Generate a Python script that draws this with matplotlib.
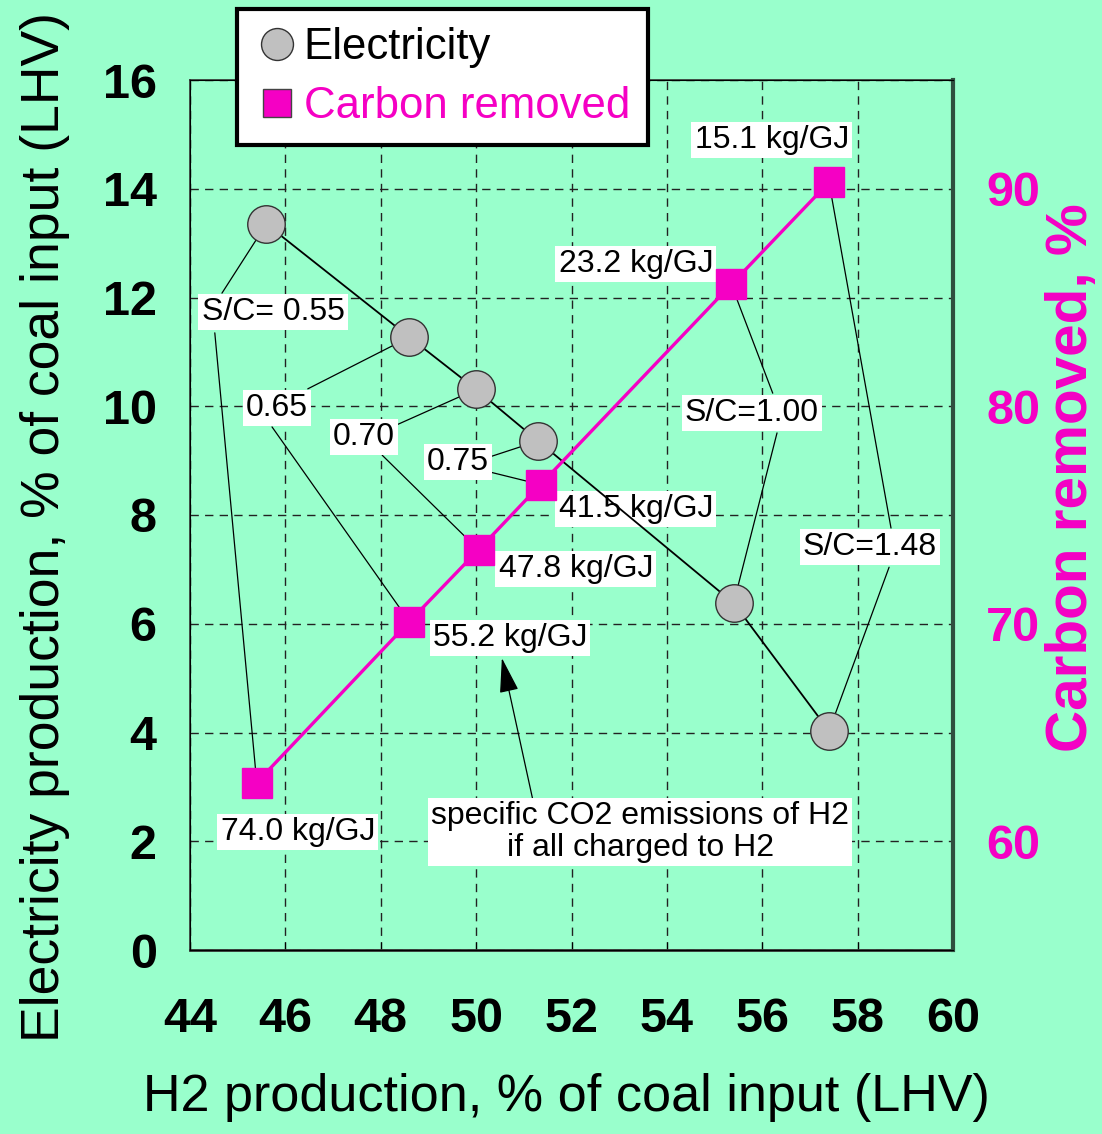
import matplotlib
matplotlib.use('Agg')
import matplotlib.pyplot as plt
from matplotlib.lines import Line2D

plt.rcParams['font.family'] = ['Liberation Sans', 'DejaVu Sans']

# data
h2_elec = [45.6, 48.6, 50.0, 51.3, 55.4, 57.4]
elec = [13.35, 11.27, 10.31, 9.36, 6.38, 4.03]
h2_carb = [45.4, 48.6, 50.05, 51.35, 55.35, 57.4]
carbon = [62.7, 70.1, 73.4, 76.4, 85.6, 90.3]
sc_labels = ['S/C= 0.55', '0.65', '0.70', '0.75', 'S/C=1.00', 'S/C=1.48']
co2_labels = ['74.0 kg/GJ', '55.2 kg/GJ', '47.8 kg/GJ', '41.5 kg/GJ', '23.2 kg/GJ', '15.1 kg/GJ']
note = 'specific CO2 emissions of H2\nif all charged to H2'

# label placement (left-axis data units)
sc_pos = [(45.74, 11.73), (45.82, 9.97), (47.65, 9.43), (49.62, 8.97), (55.78, 9.88), (58.26, 7.41)]
lead_elec = [(44.67, 12.08), (46.47, 10.32), (48.34, 9.66), (50.29, 9.07), (56.31, 9.51), (58.66, 7.04)]
lead_carb = [(44.52, 11.35), (45.72, 9.62), (48.03, 9.10), (50.29, 8.79), (56.22, 10.24), (58.70, 7.76)]
co2_pos = [(46.26, 2.17), (50.71, 5.74), (52.09, 7.01), (53.35, 8.11), (53.35, 12.62), (56.20, 14.90)]

bg = '#99ffcc'
mag = '#f500c4'

fig = plt.figure(figsize=(11.02, 11.34), dpi=100, facecolor=bg)
ax = fig.add_axes([190/1102, 1-950/1134, 763/1102, 870/1134])
ax.set_facecolor(bg)
ax2 = ax.twinx()

ax.set_xlim(44, 60)
ax.set_ylim(0, 16)
ax2.set_ylim(55, 95)
ax.set_xticks(range(44, 61, 2))
ax.set_yticks(range(0, 17, 2))
ax2.set_yticks([60, 70, 80, 90])
ax.grid(True, ls=(0, (6, 4.5)), color='#222222', lw=1)

ax.tick_params(axis='x', direction='in', length=6, pad=34, labelsize=35)
ax.tick_params(axis='y', length=0, pad=24, labelsize=35)
ax2.tick_params(axis='y', length=0, pad=24, labelsize=35, labelcolor=mag)
for lab in ax.get_xticklabels() + ax.get_yticklabels() + ax2.get_yticklabels():
    lab.set_fontweight('bold')

for s in ax.spines.values():
    s.set_color('#333333')
    s.set_linewidth(1.2)
ax.spines['bottom'].set_linewidth(2)
ax2.spines['right'].set_color('#2f4f3f')
ax2.spines['right'].set_linewidth(3)

# series
ax.plot(h2_elec, elec, color='k', lw=1.3, marker='o', ms=27, mfc='#c0c0c0',
        mec='#333333', mew=1, zorder=6)
ax2.plot(h2_carb, carbon, color=mag, lw=2.4, marker='s', ms=22, mfc=mag,
         mec=mag, zorder=3)

# leader lines from S/C labels
for i in range(len(sc_labels)):
    ax.annotate('', xy=(h2_elec[i], elec[i]), xytext=lead_elec[i],
                arrowprops=dict(arrowstyle='-', lw=0.9, color='k', shrinkA=0, shrinkB=0),
                zorder=2)
    ax.annotate('', xy=(h2_carb[i], carbon[i]), xycoords=ax2.transData,
                xytext=lead_carb[i], textcoords=ax.transData,
                arrowprops=dict(arrowstyle='-', lw=0.9, color='k', shrinkA=0, shrinkB=0),
                zorder=2)
    ax.text(sc_pos[i][0], sc_pos[i][1], sc_labels[i], fontsize=23, ha='center', va='center',
            bbox=dict(boxstyle='square,pad=0.1', fc='white', ec='none'), zorder=5)

for i in range(len(co2_labels)):
    ax.text(co2_pos[i][0], co2_pos[i][1], co2_labels[i], fontsize=23, ha='center', va='center',
            bbox=dict(boxstyle='square,pad=0.1', fc='white', ec='none'), zorder=5)

ax.annotate(note, xy=(50.54, 5.37), xytext=(53.44, 2.17), fontsize=23,
            ha='center', va='center', multialignment='center', linespacing=1.05,
            bbox=dict(boxstyle='square,pad=0.1', fc='white', ec='none'),
            arrowprops=dict(arrowstyle='-|>,head_length=1.1,head_width=0.3', fc='k', ec='k',
                            lw=0.9, relpos=(0.244, 1.0), shrinkA=0, shrinkB=0,
                            mutation_scale=20),
            zorder=5)

# axis labels
ax.set_xlabel('H2 production, % of coal input (LHV)', fontsize=37.5, va='center')
ax.xaxis.set_label_coords(0.493, -0.169)
ax.set_ylabel('Electricity production, % of coal input (LHV)', fontsize=38.5, va='center')
ax.yaxis.set_label_coords(-0.19, 0.486)
ax2.set_ylabel('Carbon removed, %', fontsize=42, fontweight='bold', color=mag, va='center')
ax2.yaxis.set_label_coords(1.156, 0.543)

# legend
handles = [Line2D([], [], ls='none', marker='o', ms=23, mfc='#c0c0c0', mec='#333333', mew=1),
           Line2D([], [], ls='none', marker='s', ms=20, mfc=mag, mec='#444444', mew=1)]
leg = fig.legend(handles, ['Electricity', 'Carbon removed'], loc='upper left',
                 bbox_to_anchor=(237/1102, 1-9/1134), fontsize=31.5, frameon=True,
                 fancybox=False, framealpha=1, edgecolor='k', handlelength=1.0,
                 handletextpad=0.1, labelspacing=0.4, borderpad=0.42, borderaxespad=0)
leg.get_frame().set_linewidth(3)
leg.get_texts()[1].set_color(mag)

fig.savefig('out.png', dpi=100, facecolor=bg)
